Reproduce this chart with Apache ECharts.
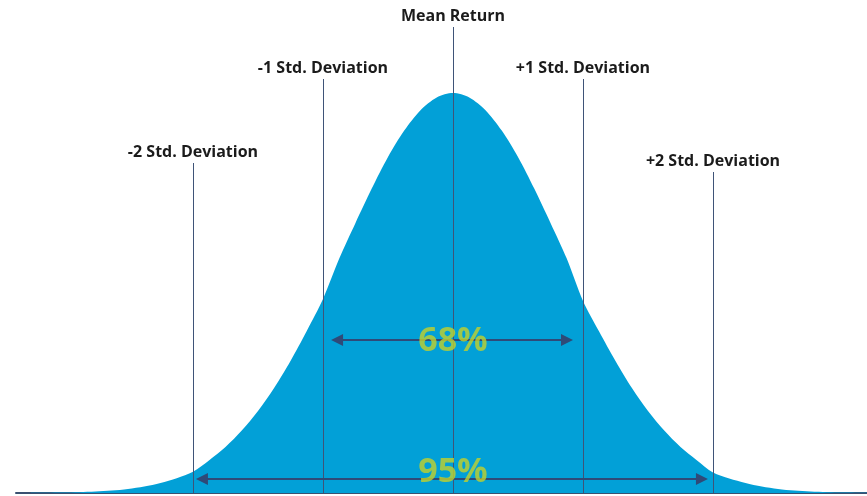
<!DOCTYPE html>
<html><head><meta charset="utf-8">
<script src="https://cdn.jsdelivr.net/npm/echarts@6/dist/echarts.min.js"></script>
<style>html,body{margin:0;padding:0;background:#fff}#c{width:867px;height:496px}</style>
</head><body><div id="c"></div>
<script>
// Curve positions in standard deviations and relative heights (peak = 100)
const curveX = [-3.25,-3.125,-3,-2.875,-2.75,-2.625,-2.5,-2.375,-2.25,-2.125,-2,-1.875,-1.75,-1.625,-1.5,-1.375,-1.25,-1.125,-1,-0.875,-0.75,-0.625,-0.5,-0.375,-0.25,-0.125,
  0,0.125,0.25,0.375,0.5,0.625,0.75,0.875,1,1.125,1.25,1.375,1.5,1.625,1.75,1.875,2,2.125,2.25,2.375,2.5,2.625,2.75,2.875,3,3.125,3.25];
const curveY = [0.02,0.05,0.1,0.2,0.35,0.6,1.0,1.6,2.5,3.7,5.3,8.2,11.5,15.6,20.5,26.3,33,40.5,48.5,58.6,67.5,76.1,84,90.6,95.7,98.9,
  100,98.9,95.7,90.6,84,76.1,67.5,58.6,48,40.3,33,26.3,20.5,15.6,11.5,8.2,5.1,3.6,2.5,1.6,1.0,0.6,0.35,0.2,0.1,0.05,0.02];
// Reference lines
const refNames = ['-2 Std. Deviation','-1 Std. Deviation','Mean Return','+1 Std. Deviation','+2 Std. Deviation'];
const refX = [-2,-1,0,1,2];
const refTop = [82.5,103.5,116.5,103.5,80.25];
// Range arrows
const rangeLabels = ['68%','95%'];
const rangeFrom = [-0.892,-1.931];
const rangeTo = [0.877,1.915];
const rangeY = [38.25,3.5];
const rangeLabelY = [38,5.25];

const chart = echarts.init(document.getElementById('c'));
const lineColor = '#3f5478';
const markData = refX.map((x,i)=>[
  {name: refNames[i], coord:[x,0]},
  {coord:[x,refTop[i]]}
]);
rangeFrom.forEach((f,i)=>{
  markData.push([
    {name:'', coord:[f,rangeY[i]], symbol:'triangle', symbolSize:[12,12], lineStyle:{width:2,color:'#2f4a78'}, label:{show:false}},
    {coord:[rangeTo[i],rangeY[i]], symbol:'triangle', symbolSize:[12,12]}
  ]);
});
chart.setOption({
  animation:false,
  grid:{left:16,right:0,top:0,bottom:3},
  xAxis:{type:'value',min:-3.3615,max:3.1846,
    axisLine:{show:true,lineStyle:{color:'#3a5070',width:2}},
    axisTick:{show:false},axisLabel:{show:false},splitLine:{show:false}},
  yAxis:{type:'value',min:0,max:123.25,show:false,splitLine:{show:false}},
  series:[
    {type:'line',z:1,data:curveX.map((x,i)=>[x,curveY[i]]),smooth:0.3,symbol:'none',
     lineStyle:{width:0},areaStyle:{color:'#02a0d7',opacity:1},silent:true},
    {type:'scatter',z:5,silent:true,symbolSize:1,itemStyle:{color:'rgba(0,0,0,0)'},
     data:rangeLabels.map((t,i)=>({value:[0,rangeLabelY[i]],name:t})),
     label:{show:true,position:'inside',formatter:'{b}',color:'#c3d12b',fontSize:34,
       fontWeight:'bold',fontFamily:'Open Sans'},
     markLine:{silent:true,symbol:['none','none'],
       lineStyle:{type:'solid',width:1,color:lineColor},
       label:{show:true,position:'end',distance:3,formatter:'{b}',color:'#1b1b1b',
         fontSize:16,fontWeight:'bold',fontFamily:'Open Sans'},
       emphasis:{disabled:true},
       data:markData}
    }
  ]
});
</script>
</body></html>
